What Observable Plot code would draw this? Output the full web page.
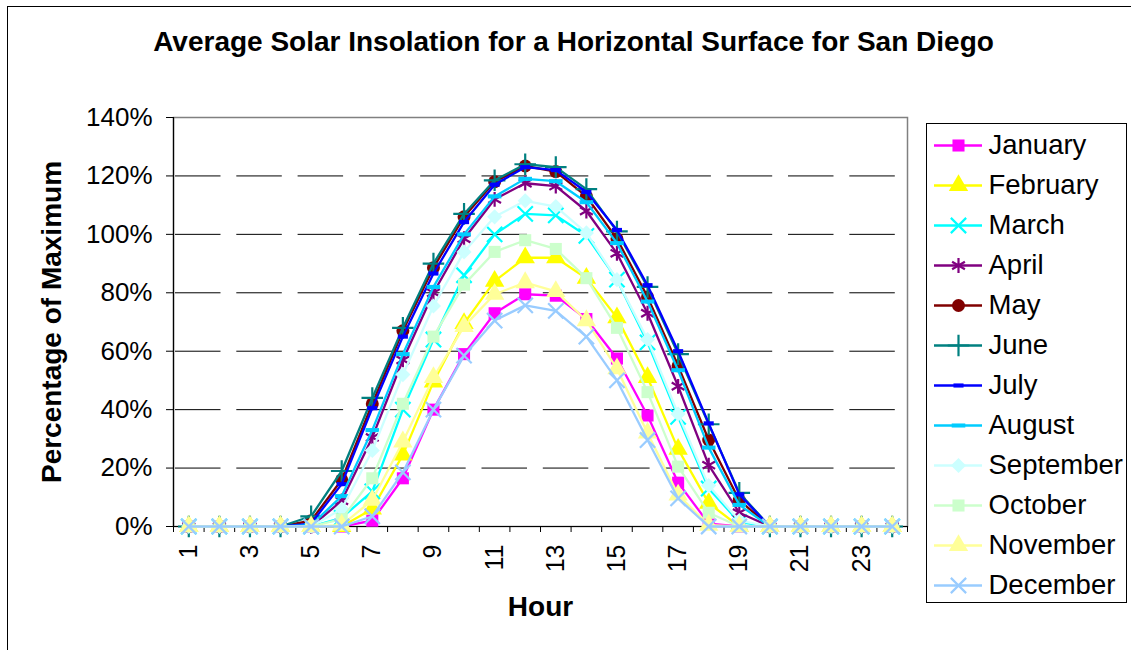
<!DOCTYPE html>
<html>
<head>
<meta charset="utf-8">
<script src="https://cdn.jsdelivr.net/npm/d3@7"></script>
<script src="https://cdn.jsdelivr.net/npm/@observablehq/plot@0.6"></script>
<style>
html, body { margin: 0; padding: 0; background: #fff; }
#wrap { position: relative; width: 1131px; height: 650px; overflow: hidden; background: #fff;
  font-family: "Liberation Sans", Arial, sans-serif; }
#border { position: absolute; left: 7px; top: 6px; width: 1140px; height: 670px; border: 1px solid #000; box-sizing: border-box; }
#title { position: absolute; left: 0; width: 1147px; top: 28px; line-height: 1; text-align: center;
  font-weight: bold; font-size: 28px; color: #000; }
#chart { position: absolute; left: 0; top: 0; }
#legend { position: absolute; left: 926px; top: 123px; width: 201px; height: 480px; border: 1px solid #000; box-sizing: border-box; background: #fff; }
#legend svg, #chart svg { display: block; }
</style>
</head>
<body>
<div id="wrap">
  <div id="border"></div>
  <div id="title">Average Solar Insolation for a Horizontal Surface for San Diego</div>
  <div id="chart"></div>
  <div id="legend"></div>
</div>
<script>
// ---- categories ----
const hours = [1,2,3,4,5,6,7,8,9,10,11,12,13,14,15,16,17,18,19,20,21,22,23,24];
const hourLabels = [1,3,5,7,9,11,13,15,17,19,21,23];
const hourBoundaries = [0.5,1.5,2.5,3.5,4.5,5.5,6.5,7.5,8.5,9.5,10.5,11.5,12.5,13.5,14.5,15.5,16.5,17.5,18.5,19.5,20.5,21.5,22.5,23.5,24.5];
const yTicks = [0,20,40,60,80,100,120,140];
const gridValues = [20,40,60,80,100,120];
const months = ["January","February","March","April","May","June","July","August","September","October","November","December"];

// ---- series values (% of maximum) ----
const january   = [0,0,0,0,0,0,2,16.5,40,59,73,79.5,79,71,57.5,38,15,1,0,0,0,0,0,0];
const february  = [0,0,0,0,0,0,6,24.5,49.5,69.5,84,92,92,85,71.5,51,26.5,8,0,0,0,0,0,0];
const march     = [0,0,0,0,0,3,12,40,64,86,100,107,106.5,99.5,84.5,63,37.5,13,1.5,0,0,0,0,0];
const april     = [0,0,0,0,0,8.8,30.5,57,80,98.5,112,117.5,116.5,108,93.5,73,48,21,4.7,0,0,0,0,0];
const may       = [0,0,0,0,2,16,42,67,88.6,106,118,123.4,121.5,113,98.5,78.6,55,29.6,9,0,0,0,0,0];
const june      = [0,0,0,0,3.5,19,44,68,90,107,118.5,124,123,115.5,101,82,59,35,11.5,0,0,0,0,0];
const july      = [0,0,0,0,1,14.5,40.5,65,86.6,104.2,117,123,122,114.5,101.5,82.6,60,35.3,11,0,0,0,0,0];
const august    = [0,0,0,0,0.5,10.4,33,59,82,100,113,119,118.2,111,97,77,53.5,27,7.4,0,0,0,0,0];
const september = [0,0,0,0,0,6,26,52,75.5,94,106,111.5,109.5,100.5,84.5,64,38.5,14,2,0,0,0,0,0];
const october   = [0,0,0,0,0,2.5,16.5,42,65,82.8,94,98,95,85,68,46,20.5,4.7,0,0,0,0,0,0];
const november  = [0,0,0,0,0,0.5,9,29,51,68.5,79.5,83.5,80.5,70.5,54,32,10.8,0.5,0,0,0,0,0,0];
const december  = [0,0,0,0,0,0,3.5,18.5,40,58.5,70.5,75.7,73.8,65,50,29.6,9.6,0,0,0,0,0,0,0];

const seriesValues = [january,february,march,april,may,june,july,august,september,october,november,december];
const colors = ["#FF00FF","#FFFF00","#00FFFF","#800080","#800000","#008080","#0000FF","#00CCFF","#CCFFFF","#CCFFCC","#FFFF99","#99CCFF"];
const markerKinds = ["square","triangle","times","asterisk","circle","plus","dashShort","dashLong","diamond2","square","triangle","times"];

// custom dash-like marker symbols
const dashShort = { draw(ctx, size) { const r = Math.sqrt(size / Math.PI); ctx.rect(-r * 0.8, -r * 0.33, r * 1.6, r * 0.66); ctx.closePath(); } };
const dashLong  = { draw(ctx, size) { const r = Math.sqrt(size / Math.PI); ctx.rect(-r, -r * 0.3, r * 2, r * 0.6); ctx.closePath(); } };

function markerOptions(kind, color) {
  const strokeKinds = ["times", "asterisk", "plus"];
  if (strokeKinds.includes(kind)) return { symbol: kind, r: 7, stroke: color, strokeWidth: 2.2, fill: "none" };
  if (kind === "dashShort") return { symbol: dashShort, r: 6.3, fill: color, stroke: "none" };
  if (kind === "dashLong") return { symbol: dashLong, r: 6.8, fill: color, stroke: "none" };
  if (kind === "circle") return { symbol: "circle", r: 6.5, fill: color, stroke: "none" };
  if (kind === "triangle") return { symbol: "triangle", r: 7.2, fill: color, stroke: "none" };
  if (kind === "diamond2") return { symbol: "diamond2", r: 6.8, fill: color, stroke: "none" };
  return { symbol: "square", r: 6.8, fill: color, stroke: "none" };
}

// long-form table
const table = [];
months.forEach((m, i) => hours.forEach((h, j) => table.push({ month: m, hour: h, value: seriesValues[i][j] })));

const seriesMarks = [];
months.forEach((m, i) => {
  const rows = table.filter(d => d.month === m);
  seriesMarks.push(Plot.line(rows, { x: "hour", y: "value", stroke: colors[i], strokeWidth: 2.3 }));
  seriesMarks.push(Plot.dot(rows, { x: "hour", y: "value", ...markerOptions(markerKinds[i], colors[i]) }));
});

const FONT = "'Liberation Sans', Arial, sans-serif";

const chart = Plot.plot({
  width: 920, height: 650,
  marginLeft: 173, marginRight: 13, marginTop: 117, marginBottom: 124,
  x: { type: "linear", domain: [0.5, 24.5] },
  y: { domain: [0, 140] },
  style: { fontFamily: FONT, fontSize: "26px", color: "#000", background: "transparent", overflow: "visible" },
  marks: [
    Plot.ruleY(gridValues, { stroke: "#000", strokeWidth: 1, strokeDasharray: "45.5,15.8", strokeDashoffset: -2 }),
    Plot.frame({ stroke: "#808080", strokeWidth: 1.5 }),
    Plot.ruleX([0.5], { stroke: "#000", strokeWidth: 1.2 }),
    Plot.ruleY([0], { stroke: "#000", strokeWidth: 1.2 }),
    Plot.axisY(yTicks, { tickSize: 7, tickPadding: 14, tickFormat: d => d + "%", fontSize: 26, label: null }),
    Plot.axisX(hourBoundaries, { tickSize: 6, tickFormat: () => "", label: null }),
    Plot.axisX(hourLabels, { tickSize: 0, tickPadding: 18, tickRotate: -90, fontSize: 25, label: null }),
    Plot.text(["Percentage of Maximum"], { frameAnchor: "left", dx: -121, rotate: -90, fontSize: 28, fontWeight: "bold", lineAnchor: "middle", textAnchor: "middle" }),
    Plot.text(["Hour"], { frameAnchor: "bottom", dy: 81, fontSize: 28, fontWeight: "bold", lineAnchor: "middle", textAnchor: "middle" }),
    ...seriesMarks
  ]
});
document.getElementById("chart").appendChild(chart);

// legend
const legendMarks = [];
months.forEach((m, i) => {
  legendMarks.push(Plot.ruleY([m], { y: d => d, stroke: colors[i], strokeWidth: 2.3, insetLeft: 7, insetRight: 144 }));
  legendMarks.push(Plot.dot([m], { y: d => d, frameAnchor: "left", dx: 31, ...markerOptions(markerKinds[i], colors[i]) }));
  legendMarks.push(Plot.text([m], { y: d => d, text: d => d, frameAnchor: "left", dx: 61, textAnchor: "start", fontSize: 27.5, fill: "#000" }));
});
const legend = Plot.plot({
  width: 199, height: 478,
  marginLeft: 0, marginRight: 0, marginTop: 21, marginBottom: 17,
  y: { type: "point", domain: months, padding: 0, axis: null },
  style: { fontFamily: FONT, fontSize: "27px", color: "#000", background: "transparent", overflow: "visible" },
  marks: legendMarks
});
document.getElementById("legend").appendChild(legend);
</script>
</body>
</html>
